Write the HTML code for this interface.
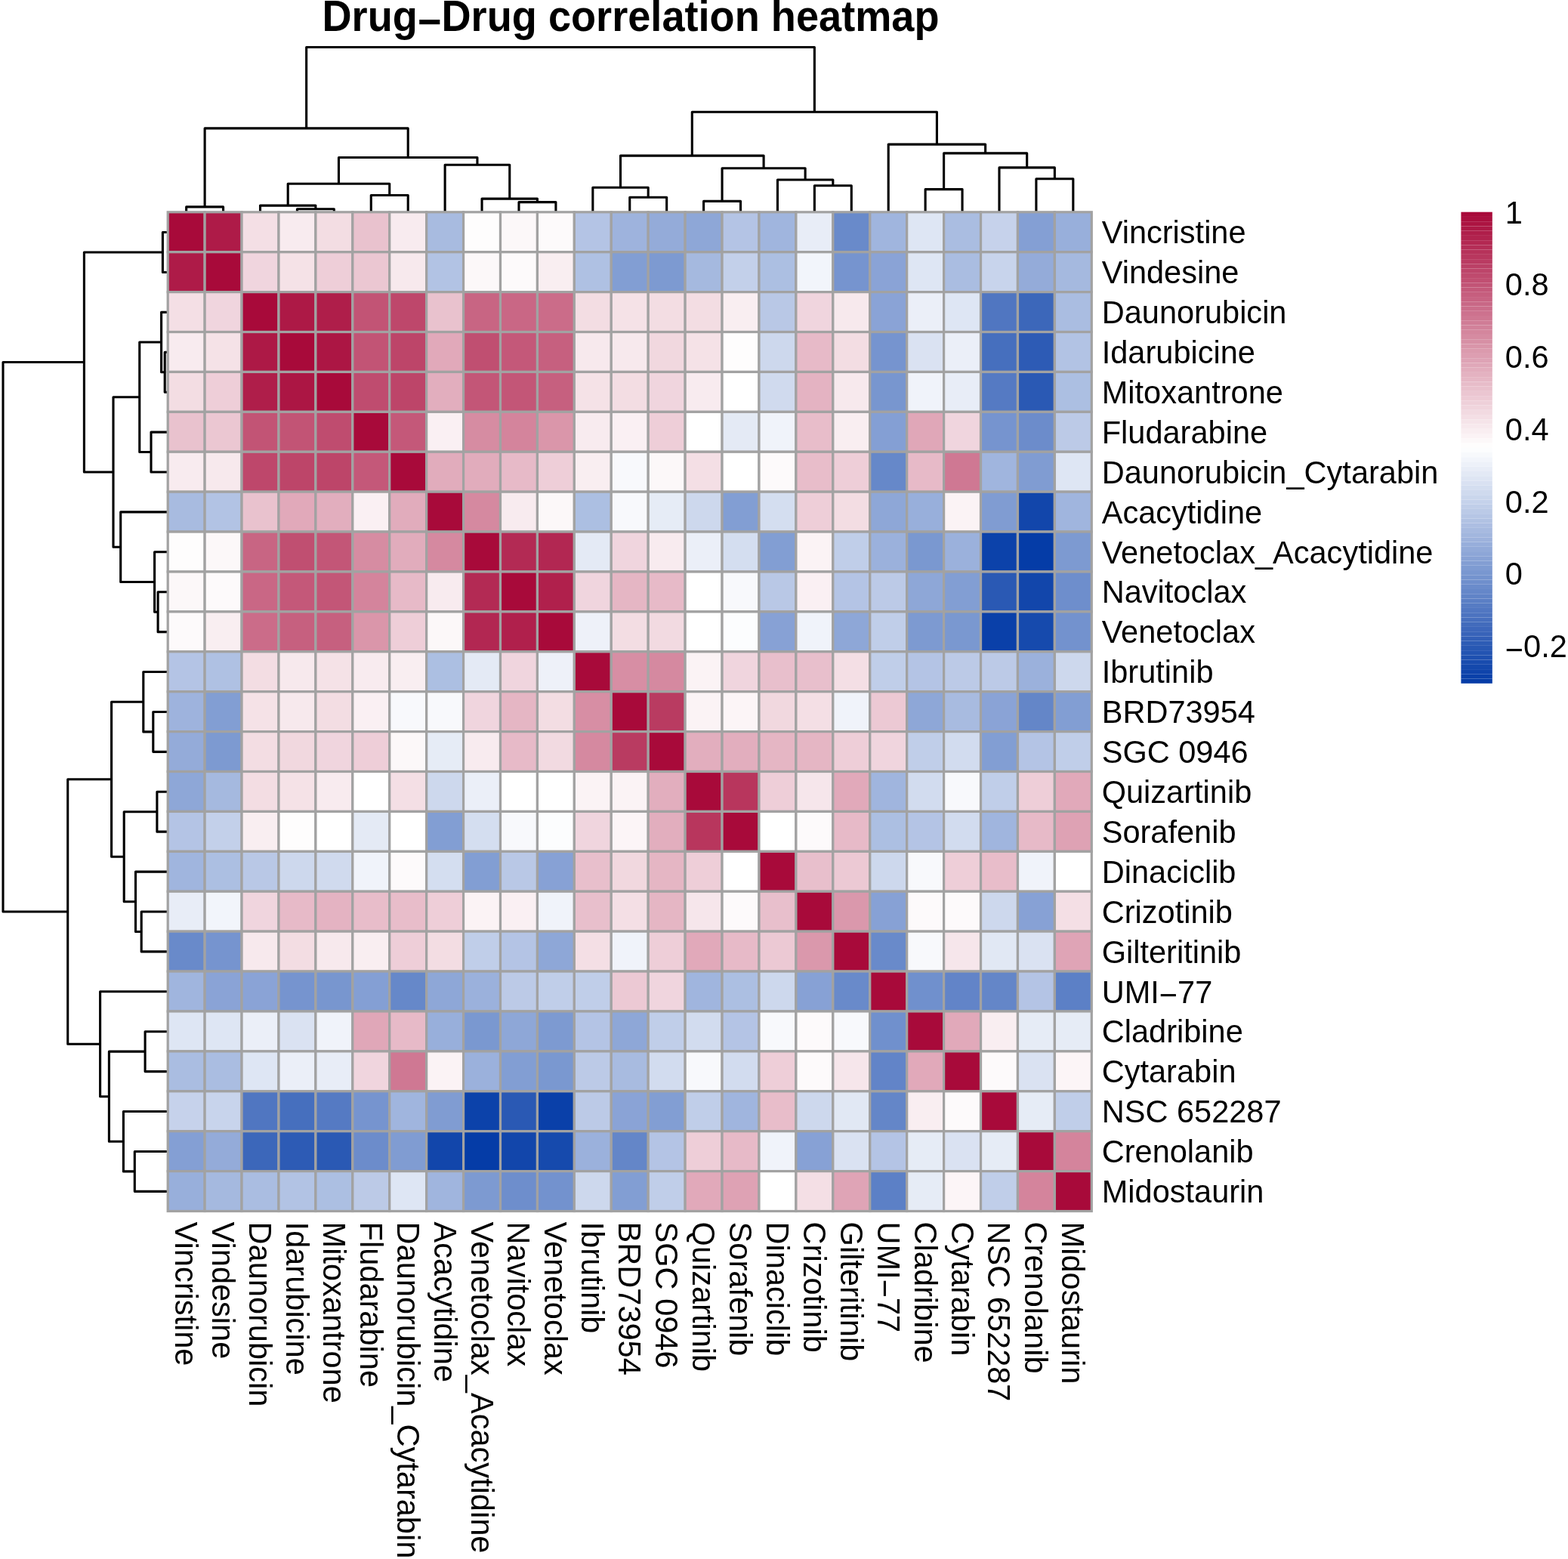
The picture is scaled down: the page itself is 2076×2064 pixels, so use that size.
<!DOCTYPE html>
<html lang="en">
<head>
<meta charset="utf-8">
<title>Drug-Drug correlation heatmap</title>
<style>
html,body{margin:0;padding:0;background:#fff;}
body{width:2076px;height:2064px;overflow:hidden;}
svg{display:block;}
text{font-family:"Liberation Sans",sans-serif;fill:#000;}
.lab{font-size:41.55px;}
.title{font-size:54.17px;font-weight:bold;}
.den{fill:none;stroke:#000;stroke-width:3.1;stroke-linejoin:round;stroke-linecap:butt;}
.cell{stroke:#a2a2a2;stroke-width:3.2;}
</style>
</head>
<body>
<svg width="2076" height="2064" viewBox="0 0 2076 2064">
<rect x="0" y="0" width="2076" height="2064" fill="#ffffff"/>
<text class="title" transform="translate(835 41.2) scale(1 1.045)" text-anchor="middle">Drug<tspan dy="6.4">−</tspan><tspan dy="-6.4">Drug correlation heatmap</tspan></text>
<g class="den">
<path d="M246.66 280.50L246.66 273.90L295.59 273.90L295.59 280.50M393.43 280.50L393.43 276.70L442.36 276.70L442.36 280.50M344.51 280.50L344.51 272.10L417.90 272.10L417.90 276.70M491.28 280.50L491.28 258.50L540.21 258.50L540.21 280.50M381.20 272.10L381.20 243.25L515.74 243.25L515.74 258.50M686.98 280.50L686.98 267.60L735.90 267.60L735.90 280.50M638.05 280.50L638.05 263.10L711.44 263.10L711.44 267.60M589.13 280.50L589.13 218.20L674.75 218.20L674.75 263.10M448.47 243.25L448.47 208.50L631.94 208.50L631.94 218.20M271.12 273.90L271.12 169.90L540.21 169.90L540.21 208.50M833.75 280.50L833.75 261.30L882.67 261.30L882.67 280.50M784.83 280.50L784.83 248.30L858.21 248.30L858.21 261.30M931.60 280.50L931.60 266.40L980.52 266.40L980.52 280.50M1078.37 280.50L1078.37 245.70L1127.29 245.70L1127.29 280.50M1029.45 280.50L1029.45 238.00L1102.83 238.00L1102.83 245.70M956.06 266.40L956.06 222.70L1066.14 222.70L1066.14 238.00M821.52 248.30L821.52 206.10L1011.10 206.10L1011.10 222.70M1225.14 280.50L1225.14 250.60L1274.07 250.60L1274.07 280.50M1371.91 280.50L1371.91 236.80L1420.84 236.80L1420.84 280.50M1322.99 280.50L1322.99 221.90L1396.38 221.90L1396.38 236.80M1249.60 250.60L1249.60 202.90L1359.68 202.90L1359.68 221.90M1176.22 280.50L1176.22 191.10L1304.64 191.10L1304.64 202.90M916.31 206.10L916.31 148.20L1240.43 148.20L1240.43 191.10M405.66 169.90L405.66 62.50L1078.37 62.50L1078.37 148.20"/>
<path d="M222.00 307.55L215.40 307.55L215.40 360.46L222.00 360.46M222.00 466.28L218.20 466.28L218.20 519.19L222.00 519.19M222.00 413.37L213.60 413.37L213.60 492.73L218.20 492.73M222.00 572.09L200.00 572.09L200.00 625.00L222.00 625.00M213.60 453.05L184.75 453.05L184.75 598.55L200.00 598.55M222.00 783.73L209.10 783.73L209.10 836.63L222.00 836.63M222.00 730.82L204.60 730.82L204.60 810.18L209.10 810.18M222.00 677.91L159.70 677.91L159.70 770.50L204.60 770.50M184.75 525.80L150.00 525.80L150.00 724.20L159.70 724.20M215.40 334.01L111.40 334.01L111.40 625.00L150.00 625.00M222.00 942.45L202.80 942.45L202.80 995.36L222.00 995.36M222.00 889.54L189.80 889.54L189.80 968.90L202.80 968.90M222.00 1048.27L207.90 1048.27L207.90 1101.17L222.00 1101.17M222.00 1206.99L187.20 1206.99L187.20 1259.90L222.00 1259.90M222.00 1154.08L179.50 1154.08L179.50 1233.44L187.20 1233.44M207.90 1074.72L164.20 1074.72L164.20 1193.76L179.50 1193.76M189.80 929.22L147.60 929.22L147.60 1134.24L164.20 1134.24M222.00 1365.71L192.10 1365.71L192.10 1418.62L222.00 1418.62M222.00 1524.44L178.30 1524.44L178.30 1577.35L222.00 1577.35M222.00 1471.53L163.40 1471.53L163.40 1550.89L178.30 1550.89M192.10 1392.17L144.40 1392.17L144.40 1511.21L163.40 1511.21M222.00 1312.81L132.60 1312.81L132.60 1451.69L144.40 1451.69M147.60 1031.73L89.70 1031.73L89.70 1382.25L132.60 1382.25M111.40 479.51L4.00 479.51L4.00 1206.99L89.70 1206.99"/>
</g>
<g class="cell">
<rect x="222.20" y="280.80" width="48.92" height="52.91" fill="#a80a3a"/><rect x="271.12" y="280.80" width="48.92" height="52.91" fill="#ae1b48"/><rect x="320.05" y="280.80" width="48.92" height="52.91" fill="#f4dfe5"/><rect x="368.97" y="280.80" width="48.92" height="52.91" fill="#f8ebef"/><rect x="417.90" y="280.80" width="48.92" height="52.91" fill="#f3dde3"/><rect x="466.82" y="280.80" width="48.92" height="52.91" fill="#e9c2ce"/><rect x="515.74" y="280.80" width="48.92" height="52.91" fill="#f8ebef"/><rect x="564.67" y="280.80" width="48.92" height="52.91" fill="#a8bbe0"/><rect x="613.59" y="280.80" width="48.92" height="52.91" fill="#fefdfd"/><rect x="662.52" y="280.80" width="48.92" height="52.91" fill="#fcf8f9"/><rect x="711.44" y="280.80" width="48.92" height="52.91" fill="#fdfafb"/><rect x="760.36" y="280.80" width="48.92" height="52.91" fill="#b4c4e5"/><rect x="809.29" y="280.80" width="48.92" height="52.91" fill="#9eb3dd"/><rect x="858.21" y="280.80" width="48.92" height="52.91" fill="#94abd9"/><rect x="907.14" y="280.80" width="48.92" height="52.91" fill="#8ea7d7"/><rect x="956.06" y="280.80" width="48.92" height="52.91" fill="#b4c4e5"/><rect x="1004.98" y="280.80" width="48.92" height="52.91" fill="#a0b5de"/><rect x="1053.91" y="280.80" width="48.92" height="52.91" fill="#e8edf7"/><rect x="1102.83" y="280.80" width="48.92" height="52.91" fill="#698aca"/><rect x="1151.76" y="280.80" width="48.92" height="52.91" fill="#a0b5de"/><rect x="1200.68" y="280.80" width="48.92" height="52.91" fill="#dee6f4"/><rect x="1249.60" y="280.80" width="48.92" height="52.91" fill="#aabde1"/><rect x="1298.53" y="280.80" width="48.92" height="52.91" fill="#c6d2eb"/><rect x="1347.45" y="280.80" width="48.92" height="52.91" fill="#849fd4"/><rect x="1396.38" y="280.80" width="48.92" height="52.91" fill="#98afdb"/>
<rect x="222.20" y="333.71" width="48.92" height="52.91" fill="#ae1b48"/><rect x="271.12" y="333.71" width="48.92" height="52.91" fill="#a80a3a"/><rect x="320.05" y="333.71" width="48.92" height="52.91" fill="#f0d5de"/><rect x="368.97" y="333.71" width="48.92" height="52.91" fill="#f5e2e7"/><rect x="417.90" y="333.71" width="48.92" height="52.91" fill="#eeced8"/><rect x="466.82" y="333.71" width="48.92" height="52.91" fill="#ebc7d2"/><rect x="515.74" y="333.71" width="48.92" height="52.91" fill="#f7e9ed"/><rect x="564.67" y="333.71" width="48.92" height="52.91" fill="#b2c3e4"/><rect x="613.59" y="333.71" width="48.92" height="52.91" fill="#fcf8f9"/><rect x="662.52" y="333.71" width="48.92" height="52.91" fill="#fdfafb"/><rect x="711.44" y="333.71" width="48.92" height="52.91" fill="#f9eef1"/><rect x="760.36" y="333.71" width="48.92" height="52.91" fill="#afc1e3"/><rect x="809.29" y="333.71" width="48.92" height="52.91" fill="#829ed3"/><rect x="858.21" y="333.71" width="48.92" height="52.91" fill="#7d9ad1"/><rect x="907.14" y="333.71" width="48.92" height="52.91" fill="#a5b9df"/><rect x="956.06" y="333.71" width="48.92" height="52.91" fill="#c3d0ea"/><rect x="1004.98" y="333.71" width="48.92" height="52.91" fill="#acbfe2"/><rect x="1053.91" y="333.71" width="48.92" height="52.91" fill="#f2f5fb"/><rect x="1102.83" y="333.71" width="48.92" height="52.91" fill="#7694cf"/><rect x="1151.76" y="333.71" width="48.92" height="52.91" fill="#8aa3d6"/><rect x="1200.68" y="333.71" width="48.92" height="52.91" fill="#dee6f4"/><rect x="1249.60" y="333.71" width="48.92" height="52.91" fill="#aabde1"/><rect x="1298.53" y="333.71" width="48.92" height="52.91" fill="#c8d4ec"/><rect x="1347.45" y="333.71" width="48.92" height="52.91" fill="#94abd9"/><rect x="1396.38" y="333.71" width="48.92" height="52.91" fill="#a5b9df"/>
<rect x="222.20" y="386.62" width="48.92" height="52.91" fill="#f4dfe5"/><rect x="271.12" y="386.62" width="48.92" height="52.91" fill="#f0d5de"/><rect x="320.05" y="386.62" width="48.92" height="52.91" fill="#a80a3a"/><rect x="368.97" y="386.62" width="48.92" height="52.91" fill="#ad1946"/><rect x="417.90" y="386.62" width="48.92" height="52.91" fill="#af1e4a"/><rect x="466.82" y="386.62" width="48.92" height="52.91" fill="#c25475"/><rect x="515.74" y="386.62" width="48.92" height="52.91" fill="#be476b"/><rect x="564.67" y="386.62" width="48.92" height="52.91" fill="#e9c2ce"/><rect x="613.59" y="386.62" width="48.92" height="52.91" fill="#c86583"/><rect x="662.52" y="386.62" width="48.92" height="52.91" fill="#c96785"/><rect x="711.44" y="386.62" width="48.92" height="52.91" fill="#cb6c89"/><rect x="760.36" y="386.62" width="48.92" height="52.91" fill="#f3dde3"/><rect x="809.29" y="386.62" width="48.92" height="52.91" fill="#f5e2e7"/><rect x="858.21" y="386.62" width="48.92" height="52.91" fill="#f3dde3"/><rect x="907.14" y="386.62" width="48.92" height="52.91" fill="#f3dde3"/><rect x="956.06" y="386.62" width="48.92" height="52.91" fill="#f9eef1"/><rect x="1004.98" y="386.62" width="48.92" height="52.91" fill="#b9c8e6"/><rect x="1053.91" y="386.62" width="48.92" height="52.91" fill="#f0d5de"/><rect x="1102.83" y="386.62" width="48.92" height="52.91" fill="#f7e9ed"/><rect x="1151.76" y="386.62" width="48.92" height="52.91" fill="#8aa3d6"/><rect x="1200.68" y="386.62" width="48.92" height="52.91" fill="#ebeff8"/><rect x="1249.60" y="386.62" width="48.92" height="52.91" fill="#dee6f4"/><rect x="1298.53" y="386.62" width="48.92" height="52.91" fill="#5076c1"/><rect x="1347.45" y="386.62" width="48.92" height="52.91" fill="#3c67ba"/><rect x="1396.38" y="386.62" width="48.92" height="52.91" fill="#aabde1"/>
<rect x="222.20" y="439.52" width="48.92" height="52.91" fill="#f8ebef"/><rect x="271.12" y="439.52" width="48.92" height="52.91" fill="#f5e2e7"/><rect x="320.05" y="439.52" width="48.92" height="52.91" fill="#ad1946"/><rect x="368.97" y="439.52" width="48.92" height="52.91" fill="#a80a3a"/><rect x="417.90" y="439.52" width="48.92" height="52.91" fill="#ac1644"/><rect x="466.82" y="439.52" width="48.92" height="52.91" fill="#c25475"/><rect x="515.74" y="439.52" width="48.92" height="52.91" fill="#bd4569"/><rect x="564.67" y="439.52" width="48.92" height="52.91" fill="#e1a9ba"/><rect x="613.59" y="439.52" width="48.92" height="52.91" fill="#c04f71"/><rect x="662.52" y="439.52" width="48.92" height="52.91" fill="#c45879"/><rect x="711.44" y="439.52" width="48.92" height="52.91" fill="#c6607f"/><rect x="760.36" y="439.52" width="48.92" height="52.91" fill="#f7e9ed"/><rect x="809.29" y="439.52" width="48.92" height="52.91" fill="#f7e9ed"/><rect x="858.21" y="439.52" width="48.92" height="52.91" fill="#f1d8df"/><rect x="907.14" y="439.52" width="48.92" height="52.91" fill="#f5e2e7"/><rect x="956.06" y="439.52" width="48.92" height="52.91" fill="#fefdfd"/><rect x="1004.98" y="439.52" width="48.92" height="52.91" fill="#cdd8ed"/><rect x="1053.91" y="439.52" width="48.92" height="52.91" fill="#e7bac8"/><rect x="1102.83" y="439.52" width="48.92" height="52.91" fill="#f3dde3"/><rect x="1151.76" y="439.52" width="48.92" height="52.91" fill="#7694cf"/><rect x="1200.68" y="439.52" width="48.92" height="52.91" fill="#dae2f2"/><rect x="1249.60" y="439.52" width="48.92" height="52.91" fill="#ebeff8"/><rect x="1298.53" y="439.52" width="48.92" height="52.91" fill="#466fbe"/><rect x="1347.45" y="439.52" width="48.92" height="52.91" fill="#2d5bb5"/><rect x="1396.38" y="439.52" width="48.92" height="52.91" fill="#b2c3e4"/>
<rect x="222.20" y="492.43" width="48.92" height="52.91" fill="#f3dde3"/><rect x="271.12" y="492.43" width="48.92" height="52.91" fill="#eeced8"/><rect x="320.05" y="492.43" width="48.92" height="52.91" fill="#af1e4a"/><rect x="368.97" y="492.43" width="48.92" height="52.91" fill="#ac1644"/><rect x="417.90" y="492.43" width="48.92" height="52.91" fill="#a80a3a"/><rect x="466.82" y="492.43" width="48.92" height="52.91" fill="#bf4c6f"/><rect x="515.74" y="492.43" width="48.92" height="52.91" fill="#bd4569"/><rect x="564.67" y="492.43" width="48.92" height="52.91" fill="#e2aebe"/><rect x="613.59" y="492.43" width="48.92" height="52.91" fill="#c35677"/><rect x="662.52" y="492.43" width="48.92" height="52.91" fill="#c35677"/><rect x="711.44" y="492.43" width="48.92" height="52.91" fill="#c6607f"/><rect x="760.36" y="492.43" width="48.92" height="52.91" fill="#f5e2e7"/><rect x="809.29" y="492.43" width="48.92" height="52.91" fill="#f3dde3"/><rect x="858.21" y="492.43" width="48.92" height="52.91" fill="#f0d5de"/><rect x="907.14" y="492.43" width="48.92" height="52.91" fill="#f8ebef"/><rect x="956.06" y="492.43" width="48.92" height="52.91" fill="#ffffff"/><rect x="1004.98" y="492.43" width="48.92" height="52.91" fill="#d0daee"/><rect x="1053.91" y="492.43" width="48.92" height="52.91" fill="#e4b3c2"/><rect x="1102.83" y="492.43" width="48.92" height="52.91" fill="#f7e9ed"/><rect x="1151.76" y="492.43" width="48.92" height="52.91" fill="#7896cf"/><rect x="1200.68" y="492.43" width="48.92" height="52.91" fill="#f0f3fa"/><rect x="1249.60" y="492.43" width="48.92" height="52.91" fill="#e8edf7"/><rect x="1298.53" y="492.43" width="48.92" height="52.91" fill="#557ac3"/><rect x="1347.45" y="492.43" width="48.92" height="52.91" fill="#2a59b4"/><rect x="1396.38" y="492.43" width="48.92" height="52.91" fill="#acbfe2"/>
<rect x="222.20" y="545.34" width="48.92" height="52.91" fill="#e9c2ce"/><rect x="271.12" y="545.34" width="48.92" height="52.91" fill="#ebc7d2"/><rect x="320.05" y="545.34" width="48.92" height="52.91" fill="#c25475"/><rect x="368.97" y="545.34" width="48.92" height="52.91" fill="#c25475"/><rect x="417.90" y="545.34" width="48.92" height="52.91" fill="#bf4c6f"/><rect x="466.82" y="545.34" width="48.92" height="52.91" fill="#a80a3a"/><rect x="515.74" y="545.34" width="48.92" height="52.91" fill="#c45879"/><rect x="564.67" y="545.34" width="48.92" height="52.91" fill="#faf0f3"/><rect x="613.59" y="545.34" width="48.92" height="52.91" fill="#d68ca2"/><rect x="662.52" y="545.34" width="48.92" height="52.91" fill="#d4849c"/><rect x="711.44" y="545.34" width="48.92" height="52.91" fill="#da96aa"/><rect x="760.36" y="545.34" width="48.92" height="52.91" fill="#f8ebef"/><rect x="809.29" y="545.34" width="48.92" height="52.91" fill="#faf0f3"/><rect x="858.21" y="545.34" width="48.92" height="52.91" fill="#eeced8"/><rect x="907.14" y="545.34" width="48.92" height="52.91" fill="#ffffff"/><rect x="956.06" y="545.34" width="48.92" height="52.91" fill="#e4eaf5"/><rect x="1004.98" y="545.34" width="48.92" height="52.91" fill="#f0f3fa"/><rect x="1053.91" y="545.34" width="48.92" height="52.91" fill="#e8bdca"/><rect x="1102.83" y="545.34" width="48.92" height="52.91" fill="#f9eef1"/><rect x="1151.76" y="545.34" width="48.92" height="52.91" fill="#849fd4"/><rect x="1200.68" y="545.34" width="48.92" height="52.91" fill="#e0a7b8"/><rect x="1249.60" y="545.34" width="48.92" height="52.91" fill="#f0d5de"/><rect x="1298.53" y="545.34" width="48.92" height="52.91" fill="#7694cf"/><rect x="1347.45" y="545.34" width="48.92" height="52.91" fill="#6c8ccb"/><rect x="1396.38" y="545.34" width="48.92" height="52.91" fill="#bccae7"/>
<rect x="222.20" y="598.25" width="48.92" height="52.91" fill="#f8ebef"/><rect x="271.12" y="598.25" width="48.92" height="52.91" fill="#f7e9ed"/><rect x="320.05" y="598.25" width="48.92" height="52.91" fill="#be476b"/><rect x="368.97" y="598.25" width="48.92" height="52.91" fill="#bd4569"/><rect x="417.90" y="598.25" width="48.92" height="52.91" fill="#bd4569"/><rect x="466.82" y="598.25" width="48.92" height="52.91" fill="#c45879"/><rect x="515.74" y="598.25" width="48.92" height="52.91" fill="#a80a3a"/><rect x="564.67" y="598.25" width="48.92" height="52.91" fill="#e1acbc"/><rect x="613.59" y="598.25" width="48.92" height="52.91" fill="#e1acbc"/><rect x="662.52" y="598.25" width="48.92" height="52.91" fill="#e7bac8"/><rect x="711.44" y="598.25" width="48.92" height="52.91" fill="#eeced8"/><rect x="760.36" y="598.25" width="48.92" height="52.91" fill="#f9eef1"/><rect x="809.29" y="598.25" width="48.92" height="52.91" fill="#f8f9fc"/><rect x="858.21" y="598.25" width="48.92" height="52.91" fill="#fcf8f9"/><rect x="907.14" y="598.25" width="48.92" height="52.91" fill="#f4dfe5"/><rect x="956.06" y="598.25" width="48.92" height="52.91" fill="#ffffff"/><rect x="1004.98" y="598.25" width="48.92" height="52.91" fill="#fdfafb"/><rect x="1053.91" y="598.25" width="48.92" height="52.91" fill="#e8bdca"/><rect x="1102.83" y="598.25" width="48.92" height="52.91" fill="#eeced8"/><rect x="1151.76" y="598.25" width="48.92" height="52.91" fill="#6688c9"/><rect x="1200.68" y="598.25" width="48.92" height="52.91" fill="#e7bac8"/><rect x="1249.60" y="598.25" width="48.92" height="52.91" fill="#cf7893"/><rect x="1298.53" y="598.25" width="48.92" height="52.91" fill="#a0b5de"/><rect x="1347.45" y="598.25" width="48.92" height="52.91" fill="#809cd2"/><rect x="1396.38" y="598.25" width="48.92" height="52.91" fill="#dee6f4"/>
<rect x="222.20" y="651.16" width="48.92" height="52.91" fill="#a8bbe0"/><rect x="271.12" y="651.16" width="48.92" height="52.91" fill="#b2c3e4"/><rect x="320.05" y="651.16" width="48.92" height="52.91" fill="#e9c2ce"/><rect x="368.97" y="651.16" width="48.92" height="52.91" fill="#e1a9ba"/><rect x="417.90" y="651.16" width="48.92" height="52.91" fill="#e2aebe"/><rect x="466.82" y="651.16" width="48.92" height="52.91" fill="#faf0f3"/><rect x="515.74" y="651.16" width="48.92" height="52.91" fill="#e1acbc"/><rect x="564.67" y="651.16" width="48.92" height="52.91" fill="#a80a3a"/><rect x="613.59" y="651.16" width="48.92" height="52.91" fill="#d589a0"/><rect x="662.52" y="651.16" width="48.92" height="52.91" fill="#f8ebef"/><rect x="711.44" y="651.16" width="48.92" height="52.91" fill="#fcf8f9"/><rect x="760.36" y="651.16" width="48.92" height="52.91" fill="#acbfe2"/><rect x="809.29" y="651.16" width="48.92" height="52.91" fill="#f8f9fc"/><rect x="858.21" y="651.16" width="48.92" height="52.91" fill="#e6ecf6"/><rect x="907.14" y="651.16" width="48.92" height="52.91" fill="#cdd8ed"/><rect x="956.06" y="651.16" width="48.92" height="52.91" fill="#829ed3"/><rect x="1004.98" y="651.16" width="48.92" height="52.91" fill="#d4def0"/><rect x="1053.91" y="651.16" width="48.92" height="52.91" fill="#eeced8"/><rect x="1102.83" y="651.16" width="48.92" height="52.91" fill="#f3dde3"/><rect x="1151.76" y="651.16" width="48.92" height="52.91" fill="#8ea7d7"/><rect x="1200.68" y="651.16" width="48.92" height="52.91" fill="#98afdb"/><rect x="1249.60" y="651.16" width="48.92" height="52.91" fill="#fbf3f5"/><rect x="1298.53" y="651.16" width="48.92" height="52.91" fill="#809cd2"/><rect x="1347.45" y="651.16" width="48.92" height="52.91" fill="#1246ab"/><rect x="1396.38" y="651.16" width="48.92" height="52.91" fill="#a0b5de"/>
<rect x="222.20" y="704.06" width="48.92" height="52.91" fill="#fefdfd"/><rect x="271.12" y="704.06" width="48.92" height="52.91" fill="#fcf8f9"/><rect x="320.05" y="704.06" width="48.92" height="52.91" fill="#c86583"/><rect x="368.97" y="704.06" width="48.92" height="52.91" fill="#c04f71"/><rect x="417.90" y="704.06" width="48.92" height="52.91" fill="#c35677"/><rect x="466.82" y="704.06" width="48.92" height="52.91" fill="#d68ca2"/><rect x="515.74" y="704.06" width="48.92" height="52.91" fill="#e1acbc"/><rect x="564.67" y="704.06" width="48.92" height="52.91" fill="#d589a0"/><rect x="613.59" y="704.06" width="48.92" height="52.91" fill="#a80a3a"/><rect x="662.52" y="704.06" width="48.92" height="52.91" fill="#b32a54"/><rect x="711.44" y="704.06" width="48.92" height="52.91" fill="#b22752"/><rect x="760.36" y="704.06" width="48.92" height="52.91" fill="#e4eaf5"/><rect x="809.29" y="704.06" width="48.92" height="52.91" fill="#f0d5de"/><rect x="858.21" y="704.06" width="48.92" height="52.91" fill="#f8ebef"/><rect x="907.14" y="704.06" width="48.92" height="52.91" fill="#ebeff8"/><rect x="956.06" y="704.06" width="48.92" height="52.91" fill="#d4def0"/><rect x="1004.98" y="704.06" width="48.92" height="52.91" fill="#829ed3"/><rect x="1053.91" y="704.06" width="48.92" height="52.91" fill="#fbf3f5"/><rect x="1102.83" y="704.06" width="48.92" height="52.91" fill="#c0cee9"/><rect x="1151.76" y="704.06" width="48.92" height="52.91" fill="#9bb1dc"/><rect x="1200.68" y="704.06" width="48.92" height="52.91" fill="#7a98d0"/><rect x="1249.60" y="704.06" width="48.92" height="52.91" fill="#9bb1dc"/><rect x="1298.53" y="704.06" width="48.92" height="52.91" fill="#0c42aa"/><rect x="1347.45" y="704.06" width="48.92" height="52.91" fill="#053ca7"/><rect x="1396.38" y="704.06" width="48.92" height="52.91" fill="#7d9ad1"/>
<rect x="222.20" y="756.97" width="48.92" height="52.91" fill="#fcf8f9"/><rect x="271.12" y="756.97" width="48.92" height="52.91" fill="#fdfafb"/><rect x="320.05" y="756.97" width="48.92" height="52.91" fill="#c96785"/><rect x="368.97" y="756.97" width="48.92" height="52.91" fill="#c45879"/><rect x="417.90" y="756.97" width="48.92" height="52.91" fill="#c35677"/><rect x="466.82" y="756.97" width="48.92" height="52.91" fill="#d4849c"/><rect x="515.74" y="756.97" width="48.92" height="52.91" fill="#e7bac8"/><rect x="564.67" y="756.97" width="48.92" height="52.91" fill="#f8ebef"/><rect x="613.59" y="756.97" width="48.92" height="52.91" fill="#b32a54"/><rect x="662.52" y="756.97" width="48.92" height="52.91" fill="#a80a3a"/><rect x="711.44" y="756.97" width="48.92" height="52.91" fill="#b0204c"/><rect x="760.36" y="756.97" width="48.92" height="52.91" fill="#f0d5de"/><rect x="809.29" y="756.97" width="48.92" height="52.91" fill="#e5b6c4"/><rect x="858.21" y="756.97" width="48.92" height="52.91" fill="#e7bac8"/><rect x="907.14" y="756.97" width="48.92" height="52.91" fill="#ffffff"/><rect x="956.06" y="756.97" width="48.92" height="52.91" fill="#f8f9fc"/><rect x="1004.98" y="756.97" width="48.92" height="52.91" fill="#b9c8e6"/><rect x="1053.91" y="756.97" width="48.92" height="52.91" fill="#faf0f3"/><rect x="1102.83" y="756.97" width="48.92" height="52.91" fill="#b4c4e5"/><rect x="1151.76" y="756.97" width="48.92" height="52.91" fill="#bccae7"/><rect x="1200.68" y="756.97" width="48.92" height="52.91" fill="#8ea7d7"/><rect x="1249.60" y="756.97" width="48.92" height="52.91" fill="#829ed3"/><rect x="1298.53" y="756.97" width="48.92" height="52.91" fill="#2a59b4"/><rect x="1347.45" y="756.97" width="48.92" height="52.91" fill="#1246ab"/><rect x="1396.38" y="756.97" width="48.92" height="52.91" fill="#6e8ecc"/>
<rect x="222.20" y="809.88" width="48.92" height="52.91" fill="#fdfafb"/><rect x="271.12" y="809.88" width="48.92" height="52.91" fill="#f9eef1"/><rect x="320.05" y="809.88" width="48.92" height="52.91" fill="#cb6c89"/><rect x="368.97" y="809.88" width="48.92" height="52.91" fill="#c6607f"/><rect x="417.90" y="809.88" width="48.92" height="52.91" fill="#c6607f"/><rect x="466.82" y="809.88" width="48.92" height="52.91" fill="#da96aa"/><rect x="515.74" y="809.88" width="48.92" height="52.91" fill="#eeced8"/><rect x="564.67" y="809.88" width="48.92" height="52.91" fill="#fcf8f9"/><rect x="613.59" y="809.88" width="48.92" height="52.91" fill="#b22752"/><rect x="662.52" y="809.88" width="48.92" height="52.91" fill="#b0204c"/><rect x="711.44" y="809.88" width="48.92" height="52.91" fill="#a80a3a"/><rect x="760.36" y="809.88" width="48.92" height="52.91" fill="#eef1f9"/><rect x="809.29" y="809.88" width="48.92" height="52.91" fill="#f3dde3"/><rect x="858.21" y="809.88" width="48.92" height="52.91" fill="#f2dae1"/><rect x="907.14" y="809.88" width="48.92" height="52.91" fill="#ffffff"/><rect x="956.06" y="809.88" width="48.92" height="52.91" fill="#fcfdfe"/><rect x="1004.98" y="809.88" width="48.92" height="52.91" fill="#87a1d5"/><rect x="1053.91" y="809.88" width="48.92" height="52.91" fill="#f0f3fa"/><rect x="1102.83" y="809.88" width="48.92" height="52.91" fill="#8ea7d7"/><rect x="1151.76" y="809.88" width="48.92" height="52.91" fill="#c0cee9"/><rect x="1200.68" y="809.88" width="48.92" height="52.91" fill="#7d9ad1"/><rect x="1249.60" y="809.88" width="48.92" height="52.91" fill="#7a98d0"/><rect x="1298.53" y="809.88" width="48.92" height="52.91" fill="#0a40a9"/><rect x="1347.45" y="809.88" width="48.92" height="52.91" fill="#164aad"/><rect x="1396.38" y="809.88" width="48.92" height="52.91" fill="#7392ce"/>
<rect x="222.20" y="862.79" width="48.92" height="52.91" fill="#b4c4e5"/><rect x="271.12" y="862.79" width="48.92" height="52.91" fill="#afc1e3"/><rect x="320.05" y="862.79" width="48.92" height="52.91" fill="#f3dde3"/><rect x="368.97" y="862.79" width="48.92" height="52.91" fill="#f7e9ed"/><rect x="417.90" y="862.79" width="48.92" height="52.91" fill="#f5e2e7"/><rect x="466.82" y="862.79" width="48.92" height="52.91" fill="#f8ebef"/><rect x="515.74" y="862.79" width="48.92" height="52.91" fill="#f9eef1"/><rect x="564.67" y="862.79" width="48.92" height="52.91" fill="#acbfe2"/><rect x="613.59" y="862.79" width="48.92" height="52.91" fill="#e4eaf5"/><rect x="662.52" y="862.79" width="48.92" height="52.91" fill="#f0d5de"/><rect x="711.44" y="862.79" width="48.92" height="52.91" fill="#eef1f9"/><rect x="760.36" y="862.79" width="48.92" height="52.91" fill="#a80a3a"/><rect x="809.29" y="862.79" width="48.92" height="52.91" fill="#d78ea4"/><rect x="858.21" y="862.79" width="48.92" height="52.91" fill="#d589a0"/><rect x="907.14" y="862.79" width="48.92" height="52.91" fill="#fbf3f5"/><rect x="956.06" y="862.79" width="48.92" height="52.91" fill="#f0d5de"/><rect x="1004.98" y="862.79" width="48.92" height="52.91" fill="#e8bfcc"/><rect x="1053.91" y="862.79" width="48.92" height="52.91" fill="#e8bfcc"/><rect x="1102.83" y="862.79" width="48.92" height="52.91" fill="#f4dfe5"/><rect x="1151.76" y="862.79" width="48.92" height="52.91" fill="#c0cee9"/><rect x="1200.68" y="862.79" width="48.92" height="52.91" fill="#b4c4e5"/><rect x="1249.60" y="862.79" width="48.92" height="52.91" fill="#bccae7"/><rect x="1298.53" y="862.79" width="48.92" height="52.91" fill="#bccae7"/><rect x="1347.45" y="862.79" width="48.92" height="52.91" fill="#9bb1dc"/><rect x="1396.38" y="862.79" width="48.92" height="52.91" fill="#cdd8ed"/>
<rect x="222.20" y="915.70" width="48.92" height="52.91" fill="#9eb3dd"/><rect x="271.12" y="915.70" width="48.92" height="52.91" fill="#829ed3"/><rect x="320.05" y="915.70" width="48.92" height="52.91" fill="#f5e2e7"/><rect x="368.97" y="915.70" width="48.92" height="52.91" fill="#f7e9ed"/><rect x="417.90" y="915.70" width="48.92" height="52.91" fill="#f3dde3"/><rect x="466.82" y="915.70" width="48.92" height="52.91" fill="#faf0f3"/><rect x="515.74" y="915.70" width="48.92" height="52.91" fill="#f8f9fc"/><rect x="564.67" y="915.70" width="48.92" height="52.91" fill="#f8f9fc"/><rect x="613.59" y="915.70" width="48.92" height="52.91" fill="#f0d5de"/><rect x="662.52" y="915.70" width="48.92" height="52.91" fill="#e5b6c4"/><rect x="711.44" y="915.70" width="48.92" height="52.91" fill="#f3dde3"/><rect x="760.36" y="915.70" width="48.92" height="52.91" fill="#d78ea4"/><rect x="809.29" y="915.70" width="48.92" height="52.91" fill="#a80a3a"/><rect x="858.21" y="915.70" width="48.92" height="52.91" fill="#b93b61"/><rect x="907.14" y="915.70" width="48.92" height="52.91" fill="#fbf3f5"/><rect x="956.06" y="915.70" width="48.92" height="52.91" fill="#fcf5f7"/><rect x="1004.98" y="915.70" width="48.92" height="52.91" fill="#f1d8df"/><rect x="1053.91" y="915.70" width="48.92" height="52.91" fill="#f4dfe5"/><rect x="1102.83" y="915.70" width="48.92" height="52.91" fill="#f0f3fa"/><rect x="1151.76" y="915.70" width="48.92" height="52.91" fill="#ecc9d4"/><rect x="1200.68" y="915.70" width="48.92" height="52.91" fill="#8ea7d7"/><rect x="1249.60" y="915.70" width="48.92" height="52.91" fill="#a8bbe0"/><rect x="1298.53" y="915.70" width="48.92" height="52.91" fill="#8aa3d6"/><rect x="1347.45" y="915.70" width="48.92" height="52.91" fill="#6486c8"/><rect x="1396.38" y="915.70" width="48.92" height="52.91" fill="#829ed3"/>
<rect x="222.20" y="968.60" width="48.92" height="52.91" fill="#94abd9"/><rect x="271.12" y="968.60" width="48.92" height="52.91" fill="#7d9ad1"/><rect x="320.05" y="968.60" width="48.92" height="52.91" fill="#f3dde3"/><rect x="368.97" y="968.60" width="48.92" height="52.91" fill="#f1d8df"/><rect x="417.90" y="968.60" width="48.92" height="52.91" fill="#f0d5de"/><rect x="466.82" y="968.60" width="48.92" height="52.91" fill="#eeced8"/><rect x="515.74" y="968.60" width="48.92" height="52.91" fill="#fcf8f9"/><rect x="564.67" y="968.60" width="48.92" height="52.91" fill="#e6ecf6"/><rect x="613.59" y="968.60" width="48.92" height="52.91" fill="#f8ebef"/><rect x="662.52" y="968.60" width="48.92" height="52.91" fill="#e7bac8"/><rect x="711.44" y="968.60" width="48.92" height="52.91" fill="#f2dae1"/><rect x="760.36" y="968.60" width="48.92" height="52.91" fill="#d589a0"/><rect x="809.29" y="968.60" width="48.92" height="52.91" fill="#b93b61"/><rect x="858.21" y="968.60" width="48.92" height="52.91" fill="#a80a3a"/><rect x="907.14" y="968.60" width="48.92" height="52.91" fill="#e2aebe"/><rect x="956.06" y="968.60" width="48.92" height="52.91" fill="#e2aebe"/><rect x="1004.98" y="968.60" width="48.92" height="52.91" fill="#e5b6c4"/><rect x="1053.91" y="968.60" width="48.92" height="52.91" fill="#e5b6c4"/><rect x="1102.83" y="968.60" width="48.92" height="52.91" fill="#eeced8"/><rect x="1151.76" y="968.60" width="48.92" height="52.91" fill="#f0d5de"/><rect x="1200.68" y="968.60" width="48.92" height="52.91" fill="#c0cee9"/><rect x="1249.60" y="968.60" width="48.92" height="52.91" fill="#d2dcef"/><rect x="1298.53" y="968.60" width="48.92" height="52.91" fill="#829ed3"/><rect x="1347.45" y="968.60" width="48.92" height="52.91" fill="#b4c4e5"/><rect x="1396.38" y="968.60" width="48.92" height="52.91" fill="#c0cee9"/>
<rect x="222.20" y="1021.51" width="48.92" height="52.91" fill="#8ea7d7"/><rect x="271.12" y="1021.51" width="48.92" height="52.91" fill="#a5b9df"/><rect x="320.05" y="1021.51" width="48.92" height="52.91" fill="#f3dde3"/><rect x="368.97" y="1021.51" width="48.92" height="52.91" fill="#f5e2e7"/><rect x="417.90" y="1021.51" width="48.92" height="52.91" fill="#f8ebef"/><rect x="466.82" y="1021.51" width="48.92" height="52.91" fill="#ffffff"/><rect x="515.74" y="1021.51" width="48.92" height="52.91" fill="#f4dfe5"/><rect x="564.67" y="1021.51" width="48.92" height="52.91" fill="#cdd8ed"/><rect x="613.59" y="1021.51" width="48.92" height="52.91" fill="#ebeff8"/><rect x="662.52" y="1021.51" width="48.92" height="52.91" fill="#ffffff"/><rect x="711.44" y="1021.51" width="48.92" height="52.91" fill="#ffffff"/><rect x="760.36" y="1021.51" width="48.92" height="52.91" fill="#fbf3f5"/><rect x="809.29" y="1021.51" width="48.92" height="52.91" fill="#fbf3f5"/><rect x="858.21" y="1021.51" width="48.92" height="52.91" fill="#e2aebe"/><rect x="907.14" y="1021.51" width="48.92" height="52.91" fill="#a80a3a"/><rect x="956.06" y="1021.51" width="48.92" height="52.91" fill="#b8365d"/><rect x="1004.98" y="1021.51" width="48.92" height="52.91" fill="#eeced8"/><rect x="1053.91" y="1021.51" width="48.92" height="52.91" fill="#f6e6eb"/><rect x="1102.83" y="1021.51" width="48.92" height="52.91" fill="#e1a9ba"/><rect x="1151.76" y="1021.51" width="48.92" height="52.91" fill="#a0b5de"/><rect x="1200.68" y="1021.51" width="48.92" height="52.91" fill="#d2dcef"/><rect x="1249.60" y="1021.51" width="48.92" height="52.91" fill="#f8f9fc"/><rect x="1298.53" y="1021.51" width="48.92" height="52.91" fill="#c0cee9"/><rect x="1347.45" y="1021.51" width="48.92" height="52.91" fill="#eeced8"/><rect x="1396.38" y="1021.51" width="48.92" height="52.91" fill="#e1a9ba"/>
<rect x="222.20" y="1074.42" width="48.92" height="52.91" fill="#b4c4e5"/><rect x="271.12" y="1074.42" width="48.92" height="52.91" fill="#c3d0ea"/><rect x="320.05" y="1074.42" width="48.92" height="52.91" fill="#f9eef1"/><rect x="368.97" y="1074.42" width="48.92" height="52.91" fill="#fefdfd"/><rect x="417.90" y="1074.42" width="48.92" height="52.91" fill="#ffffff"/><rect x="466.82" y="1074.42" width="48.92" height="52.91" fill="#e4eaf5"/><rect x="515.74" y="1074.42" width="48.92" height="52.91" fill="#ffffff"/><rect x="564.67" y="1074.42" width="48.92" height="52.91" fill="#829ed3"/><rect x="613.59" y="1074.42" width="48.92" height="52.91" fill="#d4def0"/><rect x="662.52" y="1074.42" width="48.92" height="52.91" fill="#f8f9fc"/><rect x="711.44" y="1074.42" width="48.92" height="52.91" fill="#fcfdfe"/><rect x="760.36" y="1074.42" width="48.92" height="52.91" fill="#f0d5de"/><rect x="809.29" y="1074.42" width="48.92" height="52.91" fill="#fcf5f7"/><rect x="858.21" y="1074.42" width="48.92" height="52.91" fill="#e2aebe"/><rect x="907.14" y="1074.42" width="48.92" height="52.91" fill="#b8365d"/><rect x="956.06" y="1074.42" width="48.92" height="52.91" fill="#a80a3a"/><rect x="1004.98" y="1074.42" width="48.92" height="52.91" fill="#ffffff"/><rect x="1053.91" y="1074.42" width="48.92" height="52.91" fill="#fdfafb"/><rect x="1102.83" y="1074.42" width="48.92" height="52.91" fill="#e7bac8"/><rect x="1151.76" y="1074.42" width="48.92" height="52.91" fill="#acbfe2"/><rect x="1200.68" y="1074.42" width="48.92" height="52.91" fill="#b4c4e5"/><rect x="1249.60" y="1074.42" width="48.92" height="52.91" fill="#d2dcef"/><rect x="1298.53" y="1074.42" width="48.92" height="52.91" fill="#a0b5de"/><rect x="1347.45" y="1074.42" width="48.92" height="52.91" fill="#e7bac8"/><rect x="1396.38" y="1074.42" width="48.92" height="52.91" fill="#dea2b4"/>
<rect x="222.20" y="1127.33" width="48.92" height="52.91" fill="#a0b5de"/><rect x="271.12" y="1127.33" width="48.92" height="52.91" fill="#acbfe2"/><rect x="320.05" y="1127.33" width="48.92" height="52.91" fill="#b9c8e6"/><rect x="368.97" y="1127.33" width="48.92" height="52.91" fill="#cdd8ed"/><rect x="417.90" y="1127.33" width="48.92" height="52.91" fill="#d0daee"/><rect x="466.82" y="1127.33" width="48.92" height="52.91" fill="#f0f3fa"/><rect x="515.74" y="1127.33" width="48.92" height="52.91" fill="#fdfafb"/><rect x="564.67" y="1127.33" width="48.92" height="52.91" fill="#d4def0"/><rect x="613.59" y="1127.33" width="48.92" height="52.91" fill="#829ed3"/><rect x="662.52" y="1127.33" width="48.92" height="52.91" fill="#b9c8e6"/><rect x="711.44" y="1127.33" width="48.92" height="52.91" fill="#87a1d5"/><rect x="760.36" y="1127.33" width="48.92" height="52.91" fill="#e8bfcc"/><rect x="809.29" y="1127.33" width="48.92" height="52.91" fill="#f1d8df"/><rect x="858.21" y="1127.33" width="48.92" height="52.91" fill="#e5b6c4"/><rect x="907.14" y="1127.33" width="48.92" height="52.91" fill="#eeced8"/><rect x="956.06" y="1127.33" width="48.92" height="52.91" fill="#ffffff"/><rect x="1004.98" y="1127.33" width="48.92" height="52.91" fill="#a80a3a"/><rect x="1053.91" y="1127.33" width="48.92" height="52.91" fill="#e8bfcc"/><rect x="1102.83" y="1127.33" width="48.92" height="52.91" fill="#ecc9d4"/><rect x="1151.76" y="1127.33" width="48.92" height="52.91" fill="#cdd8ed"/><rect x="1200.68" y="1127.33" width="48.92" height="52.91" fill="#f8f9fc"/><rect x="1249.60" y="1127.33" width="48.92" height="52.91" fill="#eeced8"/><rect x="1298.53" y="1127.33" width="48.92" height="52.91" fill="#e8bdca"/><rect x="1347.45" y="1127.33" width="48.92" height="52.91" fill="#f0f3fa"/><rect x="1396.38" y="1127.33" width="48.92" height="52.91" fill="#ffffff"/>
<rect x="222.20" y="1180.24" width="48.92" height="52.91" fill="#e8edf7"/><rect x="271.12" y="1180.24" width="48.92" height="52.91" fill="#f2f5fb"/><rect x="320.05" y="1180.24" width="48.92" height="52.91" fill="#f0d5de"/><rect x="368.97" y="1180.24" width="48.92" height="52.91" fill="#e7bac8"/><rect x="417.90" y="1180.24" width="48.92" height="52.91" fill="#e4b3c2"/><rect x="466.82" y="1180.24" width="48.92" height="52.91" fill="#e8bdca"/><rect x="515.74" y="1180.24" width="48.92" height="52.91" fill="#e8bdca"/><rect x="564.67" y="1180.24" width="48.92" height="52.91" fill="#eeced8"/><rect x="613.59" y="1180.24" width="48.92" height="52.91" fill="#fbf3f5"/><rect x="662.52" y="1180.24" width="48.92" height="52.91" fill="#faf0f3"/><rect x="711.44" y="1180.24" width="48.92" height="52.91" fill="#f0f3fa"/><rect x="760.36" y="1180.24" width="48.92" height="52.91" fill="#e8bfcc"/><rect x="809.29" y="1180.24" width="48.92" height="52.91" fill="#f4dfe5"/><rect x="858.21" y="1180.24" width="48.92" height="52.91" fill="#e5b6c4"/><rect x="907.14" y="1180.24" width="48.92" height="52.91" fill="#f6e6eb"/><rect x="956.06" y="1180.24" width="48.92" height="52.91" fill="#fdfafb"/><rect x="1004.98" y="1180.24" width="48.92" height="52.91" fill="#e8bfcc"/><rect x="1053.91" y="1180.24" width="48.92" height="52.91" fill="#a80a3a"/><rect x="1102.83" y="1180.24" width="48.92" height="52.91" fill="#da98ac"/><rect x="1151.76" y="1180.24" width="48.92" height="52.91" fill="#87a1d5"/><rect x="1200.68" y="1180.24" width="48.92" height="52.91" fill="#fdfafb"/><rect x="1249.60" y="1180.24" width="48.92" height="52.91" fill="#fdfafb"/><rect x="1298.53" y="1180.24" width="48.92" height="52.91" fill="#cdd8ed"/><rect x="1347.45" y="1180.24" width="48.92" height="52.91" fill="#87a1d5"/><rect x="1396.38" y="1180.24" width="48.92" height="52.91" fill="#f4dfe5"/>
<rect x="222.20" y="1233.14" width="48.92" height="52.91" fill="#698aca"/><rect x="271.12" y="1233.14" width="48.92" height="52.91" fill="#7694cf"/><rect x="320.05" y="1233.14" width="48.92" height="52.91" fill="#f7e9ed"/><rect x="368.97" y="1233.14" width="48.92" height="52.91" fill="#f3dde3"/><rect x="417.90" y="1233.14" width="48.92" height="52.91" fill="#f7e9ed"/><rect x="466.82" y="1233.14" width="48.92" height="52.91" fill="#f9eef1"/><rect x="515.74" y="1233.14" width="48.92" height="52.91" fill="#eeced8"/><rect x="564.67" y="1233.14" width="48.92" height="52.91" fill="#f3dde3"/><rect x="613.59" y="1233.14" width="48.92" height="52.91" fill="#c0cee9"/><rect x="662.52" y="1233.14" width="48.92" height="52.91" fill="#b4c4e5"/><rect x="711.44" y="1233.14" width="48.92" height="52.91" fill="#8ea7d7"/><rect x="760.36" y="1233.14" width="48.92" height="52.91" fill="#f4dfe5"/><rect x="809.29" y="1233.14" width="48.92" height="52.91" fill="#f0f3fa"/><rect x="858.21" y="1233.14" width="48.92" height="52.91" fill="#eeced8"/><rect x="907.14" y="1233.14" width="48.92" height="52.91" fill="#e1a9ba"/><rect x="956.06" y="1233.14" width="48.92" height="52.91" fill="#e7bac8"/><rect x="1004.98" y="1233.14" width="48.92" height="52.91" fill="#ecc9d4"/><rect x="1053.91" y="1233.14" width="48.92" height="52.91" fill="#da98ac"/><rect x="1102.83" y="1233.14" width="48.92" height="52.91" fill="#a80a3a"/><rect x="1151.76" y="1233.14" width="48.92" height="52.91" fill="#698aca"/><rect x="1200.68" y="1233.14" width="48.92" height="52.91" fill="#f8f9fc"/><rect x="1249.60" y="1233.14" width="48.92" height="52.91" fill="#f6e6eb"/><rect x="1298.53" y="1233.14" width="48.92" height="52.91" fill="#e1e8f4"/><rect x="1347.45" y="1233.14" width="48.92" height="52.91" fill="#dae2f2"/><rect x="1396.38" y="1233.14" width="48.92" height="52.91" fill="#dfa4b6"/>
<rect x="222.20" y="1286.05" width="48.92" height="52.91" fill="#a0b5de"/><rect x="271.12" y="1286.05" width="48.92" height="52.91" fill="#8aa3d6"/><rect x="320.05" y="1286.05" width="48.92" height="52.91" fill="#8aa3d6"/><rect x="368.97" y="1286.05" width="48.92" height="52.91" fill="#7694cf"/><rect x="417.90" y="1286.05" width="48.92" height="52.91" fill="#7896cf"/><rect x="466.82" y="1286.05" width="48.92" height="52.91" fill="#849fd4"/><rect x="515.74" y="1286.05" width="48.92" height="52.91" fill="#6688c9"/><rect x="564.67" y="1286.05" width="48.92" height="52.91" fill="#8ea7d7"/><rect x="613.59" y="1286.05" width="48.92" height="52.91" fill="#9bb1dc"/><rect x="662.52" y="1286.05" width="48.92" height="52.91" fill="#bccae7"/><rect x="711.44" y="1286.05" width="48.92" height="52.91" fill="#c0cee9"/><rect x="760.36" y="1286.05" width="48.92" height="52.91" fill="#c0cee9"/><rect x="809.29" y="1286.05" width="48.92" height="52.91" fill="#ecc9d4"/><rect x="858.21" y="1286.05" width="48.92" height="52.91" fill="#f0d5de"/><rect x="907.14" y="1286.05" width="48.92" height="52.91" fill="#a0b5de"/><rect x="956.06" y="1286.05" width="48.92" height="52.91" fill="#acbfe2"/><rect x="1004.98" y="1286.05" width="48.92" height="52.91" fill="#cdd8ed"/><rect x="1053.91" y="1286.05" width="48.92" height="52.91" fill="#87a1d5"/><rect x="1102.83" y="1286.05" width="48.92" height="52.91" fill="#698aca"/><rect x="1151.76" y="1286.05" width="48.92" height="52.91" fill="#a80a3a"/><rect x="1200.68" y="1286.05" width="48.92" height="52.91" fill="#7090cd"/><rect x="1249.60" y="1286.05" width="48.92" height="52.91" fill="#6284c8"/><rect x="1298.53" y="1286.05" width="48.92" height="52.91" fill="#6486c8"/><rect x="1347.45" y="1286.05" width="48.92" height="52.91" fill="#b4c4e5"/><rect x="1396.38" y="1286.05" width="48.92" height="52.91" fill="#5c80c6"/>
<rect x="222.20" y="1338.96" width="48.92" height="52.91" fill="#dee6f4"/><rect x="271.12" y="1338.96" width="48.92" height="52.91" fill="#dee6f4"/><rect x="320.05" y="1338.96" width="48.92" height="52.91" fill="#ebeff8"/><rect x="368.97" y="1338.96" width="48.92" height="52.91" fill="#dae2f2"/><rect x="417.90" y="1338.96" width="48.92" height="52.91" fill="#f0f3fa"/><rect x="466.82" y="1338.96" width="48.92" height="52.91" fill="#e0a7b8"/><rect x="515.74" y="1338.96" width="48.92" height="52.91" fill="#e7bac8"/><rect x="564.67" y="1338.96" width="48.92" height="52.91" fill="#98afdb"/><rect x="613.59" y="1338.96" width="48.92" height="52.91" fill="#7a98d0"/><rect x="662.52" y="1338.96" width="48.92" height="52.91" fill="#8ea7d7"/><rect x="711.44" y="1338.96" width="48.92" height="52.91" fill="#7d9ad1"/><rect x="760.36" y="1338.96" width="48.92" height="52.91" fill="#b4c4e5"/><rect x="809.29" y="1338.96" width="48.92" height="52.91" fill="#8ea7d7"/><rect x="858.21" y="1338.96" width="48.92" height="52.91" fill="#c0cee9"/><rect x="907.14" y="1338.96" width="48.92" height="52.91" fill="#d2dcef"/><rect x="956.06" y="1338.96" width="48.92" height="52.91" fill="#b4c4e5"/><rect x="1004.98" y="1338.96" width="48.92" height="52.91" fill="#f8f9fc"/><rect x="1053.91" y="1338.96" width="48.92" height="52.91" fill="#fdfafb"/><rect x="1102.83" y="1338.96" width="48.92" height="52.91" fill="#f8f9fc"/><rect x="1151.76" y="1338.96" width="48.92" height="52.91" fill="#7090cd"/><rect x="1200.68" y="1338.96" width="48.92" height="52.91" fill="#a80a3a"/><rect x="1249.60" y="1338.96" width="48.92" height="52.91" fill="#e1a9ba"/><rect x="1298.53" y="1338.96" width="48.92" height="52.91" fill="#f9eef1"/><rect x="1347.45" y="1338.96" width="48.92" height="52.91" fill="#e6ecf6"/><rect x="1396.38" y="1338.96" width="48.92" height="52.91" fill="#e6ecf6"/>
<rect x="222.20" y="1391.87" width="48.92" height="52.91" fill="#aabde1"/><rect x="271.12" y="1391.87" width="48.92" height="52.91" fill="#aabde1"/><rect x="320.05" y="1391.87" width="48.92" height="52.91" fill="#dee6f4"/><rect x="368.97" y="1391.87" width="48.92" height="52.91" fill="#ebeff8"/><rect x="417.90" y="1391.87" width="48.92" height="52.91" fill="#e8edf7"/><rect x="466.82" y="1391.87" width="48.92" height="52.91" fill="#f0d5de"/><rect x="515.74" y="1391.87" width="48.92" height="52.91" fill="#cf7893"/><rect x="564.67" y="1391.87" width="48.92" height="52.91" fill="#fbf3f5"/><rect x="613.59" y="1391.87" width="48.92" height="52.91" fill="#9bb1dc"/><rect x="662.52" y="1391.87" width="48.92" height="52.91" fill="#829ed3"/><rect x="711.44" y="1391.87" width="48.92" height="52.91" fill="#7a98d0"/><rect x="760.36" y="1391.87" width="48.92" height="52.91" fill="#bccae7"/><rect x="809.29" y="1391.87" width="48.92" height="52.91" fill="#a8bbe0"/><rect x="858.21" y="1391.87" width="48.92" height="52.91" fill="#d2dcef"/><rect x="907.14" y="1391.87" width="48.92" height="52.91" fill="#f8f9fc"/><rect x="956.06" y="1391.87" width="48.92" height="52.91" fill="#d2dcef"/><rect x="1004.98" y="1391.87" width="48.92" height="52.91" fill="#eeced8"/><rect x="1053.91" y="1391.87" width="48.92" height="52.91" fill="#fdfafb"/><rect x="1102.83" y="1391.87" width="48.92" height="52.91" fill="#f6e6eb"/><rect x="1151.76" y="1391.87" width="48.92" height="52.91" fill="#6284c8"/><rect x="1200.68" y="1391.87" width="48.92" height="52.91" fill="#e1a9ba"/><rect x="1249.60" y="1391.87" width="48.92" height="52.91" fill="#a80a3a"/><rect x="1298.53" y="1391.87" width="48.92" height="52.91" fill="#fdfafb"/><rect x="1347.45" y="1391.87" width="48.92" height="52.91" fill="#dae2f2"/><rect x="1396.38" y="1391.87" width="48.92" height="52.91" fill="#fcf5f7"/>
<rect x="222.20" y="1444.78" width="48.92" height="52.91" fill="#c6d2eb"/><rect x="271.12" y="1444.78" width="48.92" height="52.91" fill="#c8d4ec"/><rect x="320.05" y="1444.78" width="48.92" height="52.91" fill="#5076c1"/><rect x="368.97" y="1444.78" width="48.92" height="52.91" fill="#466fbe"/><rect x="417.90" y="1444.78" width="48.92" height="52.91" fill="#557ac3"/><rect x="466.82" y="1444.78" width="48.92" height="52.91" fill="#7694cf"/><rect x="515.74" y="1444.78" width="48.92" height="52.91" fill="#a0b5de"/><rect x="564.67" y="1444.78" width="48.92" height="52.91" fill="#809cd2"/><rect x="613.59" y="1444.78" width="48.92" height="52.91" fill="#0c42aa"/><rect x="662.52" y="1444.78" width="48.92" height="52.91" fill="#2a59b4"/><rect x="711.44" y="1444.78" width="48.92" height="52.91" fill="#0a40a9"/><rect x="760.36" y="1444.78" width="48.92" height="52.91" fill="#bccae7"/><rect x="809.29" y="1444.78" width="48.92" height="52.91" fill="#8aa3d6"/><rect x="858.21" y="1444.78" width="48.92" height="52.91" fill="#829ed3"/><rect x="907.14" y="1444.78" width="48.92" height="52.91" fill="#c0cee9"/><rect x="956.06" y="1444.78" width="48.92" height="52.91" fill="#a0b5de"/><rect x="1004.98" y="1444.78" width="48.92" height="52.91" fill="#e8bdca"/><rect x="1053.91" y="1444.78" width="48.92" height="52.91" fill="#cdd8ed"/><rect x="1102.83" y="1444.78" width="48.92" height="52.91" fill="#e1e8f4"/><rect x="1151.76" y="1444.78" width="48.92" height="52.91" fill="#6486c8"/><rect x="1200.68" y="1444.78" width="48.92" height="52.91" fill="#f9eef1"/><rect x="1249.60" y="1444.78" width="48.92" height="52.91" fill="#fdfafb"/><rect x="1298.53" y="1444.78" width="48.92" height="52.91" fill="#a80a3a"/><rect x="1347.45" y="1444.78" width="48.92" height="52.91" fill="#e6ecf6"/><rect x="1396.38" y="1444.78" width="48.92" height="52.91" fill="#c0cee9"/>
<rect x="222.20" y="1497.68" width="48.92" height="52.91" fill="#849fd4"/><rect x="271.12" y="1497.68" width="48.92" height="52.91" fill="#94abd9"/><rect x="320.05" y="1497.68" width="48.92" height="52.91" fill="#3c67ba"/><rect x="368.97" y="1497.68" width="48.92" height="52.91" fill="#2d5bb5"/><rect x="417.90" y="1497.68" width="48.92" height="52.91" fill="#2a59b4"/><rect x="466.82" y="1497.68" width="48.92" height="52.91" fill="#6c8ccb"/><rect x="515.74" y="1497.68" width="48.92" height="52.91" fill="#809cd2"/><rect x="564.67" y="1497.68" width="48.92" height="52.91" fill="#1246ab"/><rect x="613.59" y="1497.68" width="48.92" height="52.91" fill="#053ca7"/><rect x="662.52" y="1497.68" width="48.92" height="52.91" fill="#1246ab"/><rect x="711.44" y="1497.68" width="48.92" height="52.91" fill="#164aad"/><rect x="760.36" y="1497.68" width="48.92" height="52.91" fill="#9bb1dc"/><rect x="809.29" y="1497.68" width="48.92" height="52.91" fill="#6486c8"/><rect x="858.21" y="1497.68" width="48.92" height="52.91" fill="#b4c4e5"/><rect x="907.14" y="1497.68" width="48.92" height="52.91" fill="#eeced8"/><rect x="956.06" y="1497.68" width="48.92" height="52.91" fill="#e7bac8"/><rect x="1004.98" y="1497.68" width="48.92" height="52.91" fill="#f0f3fa"/><rect x="1053.91" y="1497.68" width="48.92" height="52.91" fill="#87a1d5"/><rect x="1102.83" y="1497.68" width="48.92" height="52.91" fill="#dae2f2"/><rect x="1151.76" y="1497.68" width="48.92" height="52.91" fill="#b4c4e5"/><rect x="1200.68" y="1497.68" width="48.92" height="52.91" fill="#e6ecf6"/><rect x="1249.60" y="1497.68" width="48.92" height="52.91" fill="#dae2f2"/><rect x="1298.53" y="1497.68" width="48.92" height="52.91" fill="#e6ecf6"/><rect x="1347.45" y="1497.68" width="48.92" height="52.91" fill="#a80a3a"/><rect x="1396.38" y="1497.68" width="48.92" height="52.91" fill="#d4849c"/>
<rect x="222.20" y="1550.59" width="48.92" height="52.91" fill="#98afdb"/><rect x="271.12" y="1550.59" width="48.92" height="52.91" fill="#a5b9df"/><rect x="320.05" y="1550.59" width="48.92" height="52.91" fill="#aabde1"/><rect x="368.97" y="1550.59" width="48.92" height="52.91" fill="#b2c3e4"/><rect x="417.90" y="1550.59" width="48.92" height="52.91" fill="#acbfe2"/><rect x="466.82" y="1550.59" width="48.92" height="52.91" fill="#bccae7"/><rect x="515.74" y="1550.59" width="48.92" height="52.91" fill="#dee6f4"/><rect x="564.67" y="1550.59" width="48.92" height="52.91" fill="#a0b5de"/><rect x="613.59" y="1550.59" width="48.92" height="52.91" fill="#7d9ad1"/><rect x="662.52" y="1550.59" width="48.92" height="52.91" fill="#6e8ecc"/><rect x="711.44" y="1550.59" width="48.92" height="52.91" fill="#7392ce"/><rect x="760.36" y="1550.59" width="48.92" height="52.91" fill="#cdd8ed"/><rect x="809.29" y="1550.59" width="48.92" height="52.91" fill="#829ed3"/><rect x="858.21" y="1550.59" width="48.92" height="52.91" fill="#c0cee9"/><rect x="907.14" y="1550.59" width="48.92" height="52.91" fill="#e1a9ba"/><rect x="956.06" y="1550.59" width="48.92" height="52.91" fill="#dea2b4"/><rect x="1004.98" y="1550.59" width="48.92" height="52.91" fill="#ffffff"/><rect x="1053.91" y="1550.59" width="48.92" height="52.91" fill="#f4dfe5"/><rect x="1102.83" y="1550.59" width="48.92" height="52.91" fill="#dfa4b6"/><rect x="1151.76" y="1550.59" width="48.92" height="52.91" fill="#5c80c6"/><rect x="1200.68" y="1550.59" width="48.92" height="52.91" fill="#e6ecf6"/><rect x="1249.60" y="1550.59" width="48.92" height="52.91" fill="#fcf5f7"/><rect x="1298.53" y="1550.59" width="48.92" height="52.91" fill="#c0cee9"/><rect x="1347.45" y="1550.59" width="48.92" height="52.91" fill="#d4849c"/><rect x="1396.38" y="1550.59" width="48.92" height="52.91" fill="#a80a3a"/>
</g>
<g class="lab">
<text transform="translate(1458.7 322.25) scale(1 1.045)">Vincristine</text>
<text transform="translate(1458.7 375.16) scale(1 1.045)">Vindesine</text>
<text transform="translate(1458.7 428.07) scale(1 1.045)">Daunorubicin</text>
<text transform="translate(1458.7 480.98) scale(1 1.045)">Idarubicine</text>
<text transform="translate(1458.7 533.89) scale(1 1.045)">Mitoxantrone</text>
<text transform="translate(1458.7 586.79) scale(1 1.045)">Fludarabine</text>
<text transform="translate(1458.7 639.70) scale(1 1.045)">Daunorubicin_Cytarabin</text>
<text transform="translate(1458.7 692.61) scale(1 1.045)">Acacytidine</text>
<text transform="translate(1458.7 745.52) scale(1 1.045)">Venetoclax_Acacytidine</text>
<text transform="translate(1458.7 798.43) scale(1 1.045)">Navitoclax</text>
<text transform="translate(1458.7 851.33) scale(1 1.045)">Venetoclax</text>
<text transform="translate(1458.7 904.24) scale(1 1.045)">Ibrutinib</text>
<text transform="translate(1458.7 957.15) scale(1 1.045)">BRD73954</text>
<text transform="translate(1458.7 1010.06) scale(1 1.045)">SGC 0946</text>
<text transform="translate(1458.7 1062.97) scale(1 1.045)">Quizartinib</text>
<text transform="translate(1458.7 1115.87) scale(1 1.045)">Sorafenib</text>
<text transform="translate(1458.7 1168.78) scale(1 1.045)">Dinaciclib</text>
<text transform="translate(1458.7 1221.69) scale(1 1.045)">Crizotinib</text>
<text transform="translate(1458.7 1274.60) scale(1 1.045)">Gilteritinib</text>
<text transform="translate(1458.7 1327.51) scale(1 1.045)">UMI<tspan dy="4.2">−</tspan><tspan dy="-4.2">77</tspan></text>
<text transform="translate(1458.7 1380.41) scale(1 1.045)">Cladribine</text>
<text transform="translate(1458.7 1433.32) scale(1 1.045)">Cytarabin</text>
<text transform="translate(1458.7 1486.23) scale(1 1.045)">NSC 652287</text>
<text transform="translate(1458.7 1539.14) scale(1 1.045)">Crenolanib</text>
<text transform="translate(1458.7 1592.05) scale(1 1.045)">Midostaurin</text>
</g>
<g class="lab">
<text transform="translate(232.16 1617.6) rotate(90) scale(1 1.045)">Vincristine</text>
<text transform="translate(281.09 1617.6) rotate(90) scale(1 1.045)">Vindesine</text>
<text transform="translate(330.01 1617.6) rotate(90) scale(1 1.045)">Daunorubicin</text>
<text transform="translate(378.93 1617.6) rotate(90) scale(1 1.045)">Idarubicine</text>
<text transform="translate(427.86 1617.6) rotate(90) scale(1 1.045)">Mitoxantrone</text>
<text transform="translate(476.78 1617.6) rotate(90) scale(1 1.045)">Fludarabine</text>
<text transform="translate(525.71 1617.6) rotate(90) scale(1 1.045)">Daunorubicin_Cytarabin</text>
<text transform="translate(574.63 1617.6) rotate(90) scale(1 1.045)">Acacytidine</text>
<text transform="translate(623.55 1617.6) rotate(90) scale(1 1.045)">Venetoclax_Acacytidine</text>
<text transform="translate(672.48 1617.6) rotate(90) scale(1 1.045)">Navitoclax</text>
<text transform="translate(721.40 1617.6) rotate(90) scale(1 1.045)">Venetoclax</text>
<text transform="translate(770.33 1617.6) rotate(90) scale(1 1.045)">Ibrutinib</text>
<text transform="translate(819.25 1617.6) rotate(90) scale(1 1.045)">BRD73954</text>
<text transform="translate(868.17 1617.6) rotate(90) scale(1 1.045)">SGC 0946</text>
<text transform="translate(917.10 1617.6) rotate(90) scale(1 1.045)">Quizartinib</text>
<text transform="translate(966.02 1617.6) rotate(90) scale(1 1.045)">Sorafenib</text>
<text transform="translate(1014.95 1617.6) rotate(90) scale(1 1.045)">Dinaciclib</text>
<text transform="translate(1063.87 1617.6) rotate(90) scale(1 1.045)">Crizotinib</text>
<text transform="translate(1112.79 1617.6) rotate(90) scale(1 1.045)">Gilteritinib</text>
<text transform="translate(1161.72 1617.6) rotate(90) scale(1 1.045)">UMI<tspan dy="4.2">−</tspan><tspan dy="-4.2">77</tspan></text>
<text transform="translate(1210.64 1617.6) rotate(90) scale(1 1.045)">Cladribine</text>
<text transform="translate(1259.57 1617.6) rotate(90) scale(1 1.045)">Cytarabin</text>
<text transform="translate(1308.49 1617.6) rotate(90) scale(1 1.045)">NSC 652287</text>
<text transform="translate(1357.41 1617.6) rotate(90) scale(1 1.045)">Crenolanib</text>
<text transform="translate(1406.34 1617.6) rotate(90) scale(1 1.045)">Midostaurin</text>
</g>
<g>
<rect x="1934.40" y="280.70" width="41.40" height="6.241" fill="#a80a3a"/><rect x="1934.40" y="286.94" width="41.40" height="6.241" fill="#aa0f3e"/><rect x="1934.40" y="293.18" width="41.40" height="6.241" fill="#ac1442"/><rect x="1934.40" y="299.42" width="41.40" height="6.241" fill="#ad1946"/><rect x="1934.40" y="305.66" width="41.40" height="6.241" fill="#af1e4a"/><rect x="1934.40" y="311.90" width="41.40" height="6.241" fill="#b1234e"/><rect x="1934.40" y="318.15" width="41.40" height="6.241" fill="#b32852"/><rect x="1934.40" y="324.39" width="41.40" height="6.241" fill="#b42d56"/><rect x="1934.40" y="330.63" width="41.40" height="6.241" fill="#b6325a"/><rect x="1934.40" y="336.87" width="41.40" height="6.241" fill="#b8375e"/><rect x="1934.40" y="343.11" width="41.40" height="6.241" fill="#ba3b62"/><rect x="1934.40" y="349.35" width="41.40" height="6.241" fill="#bb4066"/><rect x="1934.40" y="355.59" width="41.40" height="6.241" fill="#bd456a"/><rect x="1934.40" y="361.83" width="41.40" height="6.241" fill="#bf4a6e"/><rect x="1934.40" y="368.07" width="41.40" height="6.241" fill="#c14f72"/><rect x="1934.40" y="374.31" width="41.40" height="6.241" fill="#c25476"/><rect x="1934.40" y="380.56" width="41.40" height="6.241" fill="#c4597a"/><rect x="1934.40" y="386.80" width="41.40" height="6.241" fill="#c65e7e"/><rect x="1934.40" y="393.04" width="41.40" height="6.241" fill="#c86382"/><rect x="1934.40" y="399.28" width="41.40" height="6.241" fill="#c96886"/><rect x="1934.40" y="405.52" width="41.40" height="6.241" fill="#cb6d8a"/><rect x="1934.40" y="411.76" width="41.40" height="6.241" fill="#cd728e"/><rect x="1934.40" y="418.00" width="41.40" height="6.241" fill="#cf7792"/><rect x="1934.40" y="424.24" width="41.40" height="6.241" fill="#d07c96"/><rect x="1934.40" y="430.48" width="41.40" height="6.241" fill="#d2819a"/><rect x="1934.40" y="436.72" width="41.40" height="6.241" fill="#d4869d"/><rect x="1934.40" y="442.97" width="41.40" height="6.241" fill="#d68ba1"/><rect x="1934.40" y="449.21" width="41.40" height="6.241" fill="#d790a5"/><rect x="1934.40" y="455.45" width="41.40" height="6.241" fill="#d995a9"/><rect x="1934.40" y="461.69" width="41.40" height="6.241" fill="#db9aad"/><rect x="1934.40" y="467.93" width="41.40" height="6.241" fill="#dd9eb1"/><rect x="1934.40" y="474.17" width="41.40" height="6.241" fill="#dea3b5"/><rect x="1934.40" y="480.41" width="41.40" height="6.241" fill="#e0a8b9"/><rect x="1934.40" y="486.65" width="41.40" height="6.241" fill="#e2adbd"/><rect x="1934.40" y="492.89" width="41.40" height="6.241" fill="#e4b2c1"/><rect x="1934.40" y="499.13" width="41.40" height="6.241" fill="#e6b7c5"/><rect x="1934.40" y="505.38" width="41.40" height="6.241" fill="#e7bcc9"/><rect x="1934.40" y="511.62" width="41.40" height="6.241" fill="#e9c1cd"/><rect x="1934.40" y="517.86" width="41.40" height="6.241" fill="#ebc6d1"/><rect x="1934.40" y="524.10" width="41.40" height="6.241" fill="#edcbd5"/><rect x="1934.40" y="530.34" width="41.40" height="6.241" fill="#eed0d9"/><rect x="1934.40" y="536.58" width="41.40" height="6.241" fill="#f0d5dd"/><rect x="1934.40" y="542.82" width="41.40" height="6.241" fill="#f2dae1"/><rect x="1934.40" y="549.06" width="41.40" height="6.241" fill="#f4dfe5"/><rect x="1934.40" y="555.30" width="41.40" height="6.241" fill="#f5e4e9"/><rect x="1934.40" y="561.54" width="41.40" height="6.241" fill="#f7e9ed"/><rect x="1934.40" y="567.79" width="41.40" height="6.241" fill="#f9eef1"/><rect x="1934.40" y="574.03" width="41.40" height="6.241" fill="#fbf3f5"/><rect x="1934.40" y="580.27" width="41.40" height="6.241" fill="#fcf8f9"/><rect x="1934.40" y="586.51" width="41.40" height="6.241" fill="#fefdfd"/><rect x="1934.40" y="592.75" width="41.40" height="6.241" fill="#fcfdfe"/><rect x="1934.40" y="598.99" width="41.40" height="6.241" fill="#f7f9fc"/><rect x="1934.40" y="605.23" width="41.40" height="6.241" fill="#f2f5fb"/><rect x="1934.40" y="611.47" width="41.40" height="6.241" fill="#edf1f9"/><rect x="1934.40" y="617.71" width="41.40" height="6.241" fill="#e8edf7"/><rect x="1934.40" y="623.95" width="41.40" height="6.241" fill="#e3e9f5"/><rect x="1934.40" y="630.20" width="41.40" height="6.241" fill="#dee5f3"/><rect x="1934.40" y="636.44" width="41.40" height="6.241" fill="#d9e1f2"/><rect x="1934.40" y="642.68" width="41.40" height="6.241" fill="#d4def0"/><rect x="1934.40" y="648.92" width="41.40" height="6.241" fill="#cfdaee"/><rect x="1934.40" y="655.16" width="41.40" height="6.241" fill="#cad6ec"/><rect x="1934.40" y="661.40" width="41.40" height="6.241" fill="#c5d2eb"/><rect x="1934.40" y="667.64" width="41.40" height="6.241" fill="#c0cee9"/><rect x="1934.40" y="673.88" width="41.40" height="6.241" fill="#bbcae7"/><rect x="1934.40" y="680.12" width="41.40" height="6.241" fill="#b6c6e5"/><rect x="1934.40" y="686.36" width="41.40" height="6.241" fill="#b1c2e3"/><rect x="1934.40" y="692.61" width="41.40" height="6.241" fill="#acbee2"/><rect x="1934.40" y="698.85" width="41.40" height="6.241" fill="#a7bae0"/><rect x="1934.40" y="705.09" width="41.40" height="6.241" fill="#a2b6de"/><rect x="1934.40" y="711.33" width="41.40" height="6.241" fill="#9db2dc"/><rect x="1934.40" y="717.57" width="41.40" height="6.241" fill="#97aedb"/><rect x="1934.40" y="723.81" width="41.40" height="6.241" fill="#92aad9"/><rect x="1934.40" y="730.05" width="41.40" height="6.241" fill="#8da6d7"/><rect x="1934.40" y="736.29" width="41.40" height="6.241" fill="#88a2d5"/><rect x="1934.40" y="742.53" width="41.40" height="6.241" fill="#839ed3"/><rect x="1934.40" y="748.77" width="41.40" height="6.241" fill="#7e9bd2"/><rect x="1934.40" y="755.02" width="41.40" height="6.241" fill="#7997d0"/><rect x="1934.40" y="761.26" width="41.40" height="6.241" fill="#7493ce"/><rect x="1934.40" y="767.50" width="41.40" height="6.241" fill="#6f8fcc"/><rect x="1934.40" y="773.74" width="41.40" height="6.241" fill="#6a8bcb"/><rect x="1934.40" y="779.98" width="41.40" height="6.241" fill="#6587c9"/><rect x="1934.40" y="786.22" width="41.40" height="6.241" fill="#6083c7"/><rect x="1934.40" y="792.46" width="41.40" height="6.241" fill="#5b7fc5"/><rect x="1934.40" y="798.70" width="41.40" height="6.241" fill="#567bc3"/><rect x="1934.40" y="804.94" width="41.40" height="6.241" fill="#5177c2"/><rect x="1934.40" y="811.18" width="41.40" height="6.241" fill="#4c73c0"/><rect x="1934.40" y="817.43" width="41.40" height="6.241" fill="#476fbe"/><rect x="1934.40" y="823.67" width="41.40" height="6.241" fill="#426bbc"/><rect x="1934.40" y="829.91" width="41.40" height="6.241" fill="#3d67bb"/><rect x="1934.40" y="836.15" width="41.40" height="6.241" fill="#3863b9"/><rect x="1934.40" y="842.39" width="41.40" height="6.241" fill="#325fb7"/><rect x="1934.40" y="848.63" width="41.40" height="6.241" fill="#2d5cb5"/><rect x="1934.40" y="854.87" width="41.40" height="6.241" fill="#2858b3"/><rect x="1934.40" y="861.11" width="41.40" height="6.241" fill="#2354b2"/><rect x="1934.40" y="867.35" width="41.40" height="6.241" fill="#1e50b0"/><rect x="1934.40" y="873.59" width="41.40" height="6.241" fill="#194cae"/><rect x="1934.40" y="879.84" width="41.40" height="6.241" fill="#1448ac"/><rect x="1934.40" y="886.08" width="41.40" height="6.241" fill="#0f44ab"/><rect x="1934.40" y="892.32" width="41.40" height="6.241" fill="#0a40a9"/><rect x="1934.40" y="898.56" width="41.40" height="6.241" fill="#053ca7"/>
</g>
<g class="lab">
<text transform="translate(1992.8 295.50) scale(1 1.045)">1</text>
<text transform="translate(1992.8 391.28) scale(1 1.045)">0.8</text>
<text transform="translate(1992.8 487.06) scale(1 1.045)">0.6</text>
<text transform="translate(1992.8 582.84) scale(1 1.045)">0.4</text>
<text transform="translate(1992.8 678.62) scale(1 1.045)">0.2</text>
<text transform="translate(1992.8 774.40) scale(1 1.045)">0</text>
<text transform="translate(1992.8 870.18) scale(1 1.045)"><tspan dy="4.2">−</tspan><tspan dy="-4.2">0.2</tspan></text>
</g>
</svg>
</body>
</html>
